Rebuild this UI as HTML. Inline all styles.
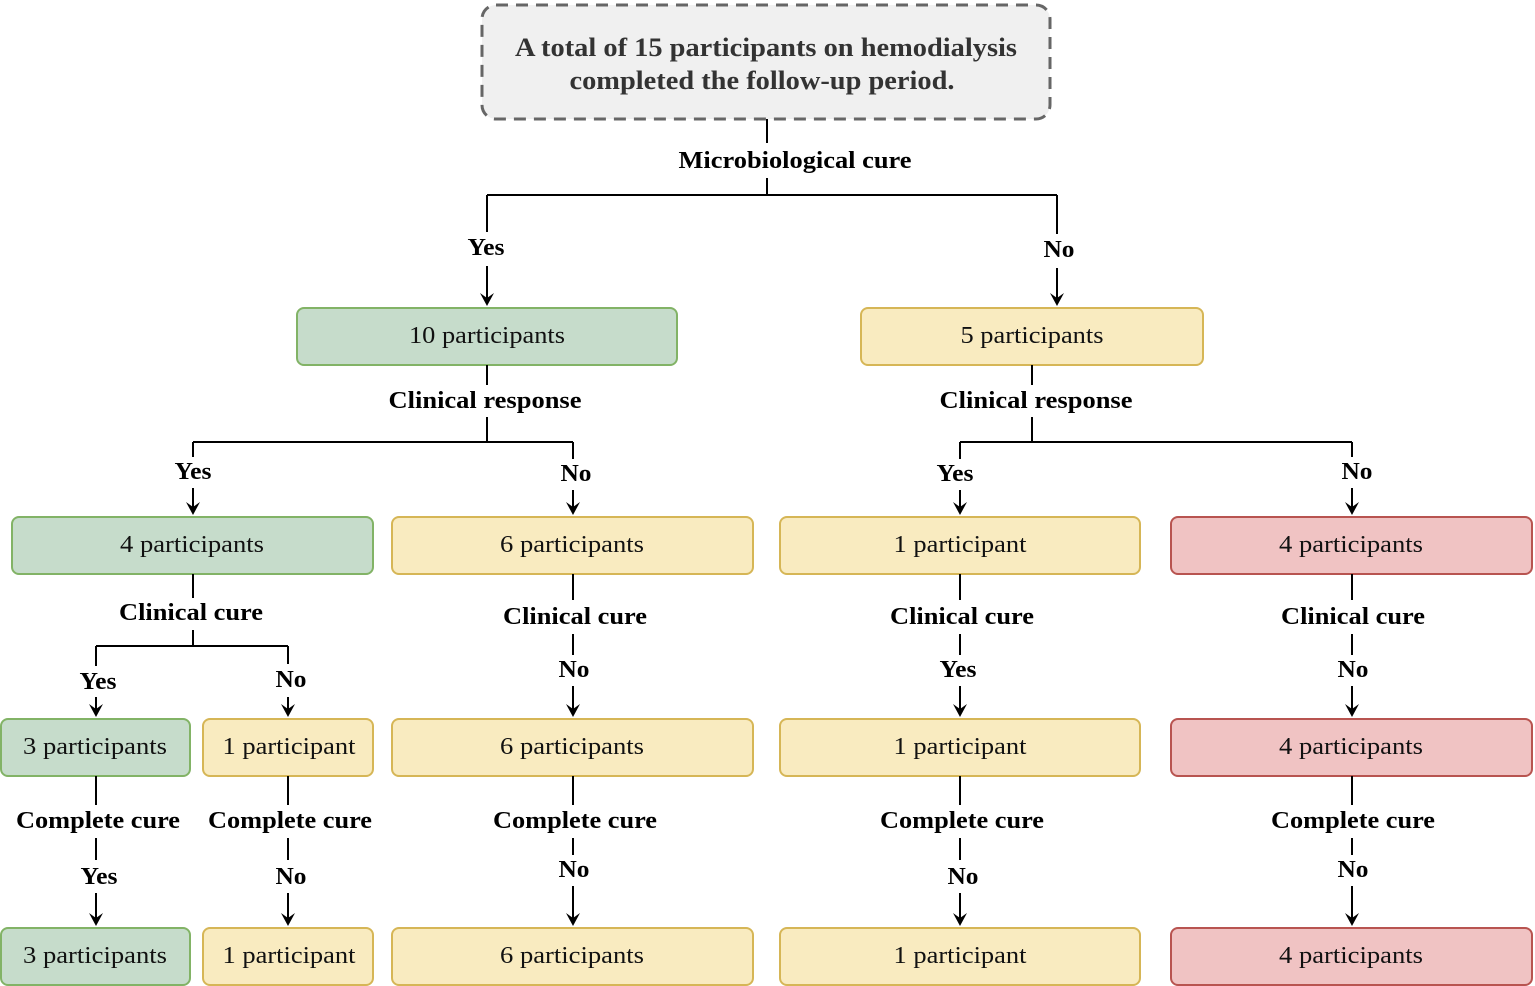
<!DOCTYPE html>
<html><head><meta charset="utf-8"><style>
html,body{margin:0;padding:0;background:#fff}
svg{display:block}
svg text{font-family:"Liberation Serif","Tinos","Times New Roman","Nimbus Roman","DejaVu Serif",serif}
.l{font-weight:bold;font-size:24px;fill:#000}
.b{font-size:24px;fill:#111}
line{stroke:#000;stroke-width:2}
</style></head><body>
<svg width="1535" height="986" viewBox="0 0 1535 986" xmlns="http://www.w3.org/2000/svg">
<defs>
<polygon id="ah" points="-7,-13 0,0 7,-13 0,-8" fill="#000"/>
</defs>
<g text-anchor="middle" lengthAdjust="spacingAndGlyphs">
<rect x="482" y="5" width="568" height="114" rx="14" fill="#f0f0f0" stroke="#666" stroke-width="3" stroke-dasharray="12,8"/>
<text x="766" y="56" font-weight="bold" font-size="26" fill="#333" textLength="502" lengthAdjust="spacingAndGlyphs">A total of 15 participants on hemodialysis</text>
<text x="762" y="89" font-weight="bold" font-size="26" fill="#333" textLength="385" lengthAdjust="spacingAndGlyphs">completed the follow-up period.</text>
<line x1="767" y1="119" x2="767" y2="143"/>
<text class="l" x="795" y="168" textLength="233" lengthAdjust="spacingAndGlyphs">Microbiological cure</text>
<line x1="767" y1="178" x2="767" y2="195"/>
<line x1="487" y1="195" x2="1057" y2="195"/>
<line x1="487" y1="195" x2="487" y2="232"/>
<line x1="1057" y1="195" x2="1057" y2="234"/>
<text class="l" x="486" y="255" textLength="37" lengthAdjust="spacingAndGlyphs">Yes</text>
<text class="l" x="1059" y="257" textLength="31" lengthAdjust="spacingAndGlyphs">No</text>
<line x1="487" y1="266" x2="487" y2="300"/><use href="#ah" x="487" y="306"/>
<line x1="1057" y1="268" x2="1057" y2="300"/><use href="#ah" x="1057" y="306"/>

<rect x="297" y="308" width="380" height="57" rx="7" fill="#c6dccb" stroke="#82b366" stroke-width="2"/>
<text class="b" x="487" y="343" textLength="156" lengthAdjust="spacingAndGlyphs">10 participants</text>
<rect x="861" y="308" width="342" height="57" rx="7" fill="#f9ebc0" stroke="#d6b656" stroke-width="2"/>
<text class="b" x="1032" y="343" textLength="143" lengthAdjust="spacingAndGlyphs">5 participants</text>

<line x1="487" y1="365" x2="487" y2="385"/>
<text class="l" x="485" y="408" textLength="193" lengthAdjust="spacingAndGlyphs">Clinical response</text>
<line x1="487" y1="417" x2="487" y2="442"/>
<line x1="193" y1="442" x2="573" y2="442"/>
<line x1="193" y1="442" x2="193" y2="457"/>
<line x1="573" y1="442" x2="573" y2="459"/>
<text class="l" x="193" y="479" textLength="37" lengthAdjust="spacingAndGlyphs">Yes</text>
<text class="l" x="576" y="481" textLength="31" lengthAdjust="spacingAndGlyphs">No</text>
<line x1="193" y1="488" x2="193" y2="510"/><use href="#ah" x="193" y="515"/>
<line x1="573" y1="490" x2="573" y2="510"/><use href="#ah" x="573" y="515"/>

<line x1="1032" y1="365" x2="1032" y2="385"/>
<text class="l" x="1036" y="408" textLength="193" lengthAdjust="spacingAndGlyphs">Clinical response</text>
<line x1="1032" y1="417" x2="1032" y2="442"/>
<line x1="960" y1="442" x2="1352" y2="442"/>
<line x1="960" y1="442" x2="960" y2="459"/>
<line x1="1352" y1="442" x2="1352" y2="457"/>
<text class="l" x="955" y="481" textLength="37" lengthAdjust="spacingAndGlyphs">Yes</text>
<text class="l" x="1357" y="479" textLength="31" lengthAdjust="spacingAndGlyphs">No</text>
<line x1="960" y1="490" x2="960" y2="510"/><use href="#ah" x="960" y="515"/>
<line x1="1352" y1="488" x2="1352" y2="510"/><use href="#ah" x="1352" y="515"/>

<rect x="12" y="517" width="361" height="57" rx="7" fill="#c6dccb" stroke="#82b366" stroke-width="2"/>
<text class="b" x="192" y="552" textLength="144" lengthAdjust="spacingAndGlyphs">4 participants</text>
<rect x="392" y="517" width="361" height="57" rx="7" fill="#f9ebc0" stroke="#d6b656" stroke-width="2"/>
<text class="b" x="572" y="552" textLength="144" lengthAdjust="spacingAndGlyphs">6 participants</text>
<rect x="780" y="517" width="360" height="57" rx="7" fill="#f9ebc0" stroke="#d6b656" stroke-width="2"/>
<text class="b" x="960" y="552" textLength="133" lengthAdjust="spacingAndGlyphs">1 participant</text>
<rect x="1171" y="517" width="361" height="57" rx="7" fill="#f0c3c3" stroke="#b85450" stroke-width="2"/>
<text class="b" x="1351" y="552" textLength="144" lengthAdjust="spacingAndGlyphs">4 participants</text>

<line x1="193" y1="574" x2="193" y2="598"/>
<text class="l" x="191" y="620" textLength="144" lengthAdjust="spacingAndGlyphs">Clinical cure</text>
<line x1="193" y1="630" x2="193" y2="646"/>
<line x1="96" y1="646" x2="288" y2="646"/>
<line x1="96" y1="646" x2="96" y2="666"/>
<line x1="288" y1="646" x2="288" y2="664"/>
<text class="l" x="98" y="689" textLength="37" lengthAdjust="spacingAndGlyphs">Yes</text>
<text class="l" x="291" y="687" textLength="31" lengthAdjust="spacingAndGlyphs">No</text>
<line x1="96" y1="697" x2="96" y2="712"/><use href="#ah" x="96" y="717"/>
<line x1="288" y1="697" x2="288" y2="712"/><use href="#ah" x="288" y="717"/>

<line x1="573" y1="574" x2="573" y2="600"/><text class="l" x="575" y="624" textLength="144" lengthAdjust="spacingAndGlyphs">Clinical cure</text>
<line x1="573" y1="634" x2="573" y2="655"/><text class="l" x="574" y="677" textLength="31" lengthAdjust="spacingAndGlyphs">No</text>
<line x1="573" y1="686" x2="573" y2="712"/><use href="#ah" x="573" y="717"/>
<line x1="960" y1="574" x2="960" y2="600"/><text class="l" x="962" y="624" textLength="144" lengthAdjust="spacingAndGlyphs">Clinical cure</text>
<line x1="960" y1="634" x2="960" y2="655"/><text class="l" x="958" y="677" textLength="37" lengthAdjust="spacingAndGlyphs">Yes</text>
<line x1="960" y1="686" x2="960" y2="712"/><use href="#ah" x="960" y="717"/>
<line x1="1352" y1="574" x2="1352" y2="600"/><text class="l" x="1353" y="624" textLength="144" lengthAdjust="spacingAndGlyphs">Clinical cure</text>
<line x1="1352" y1="634" x2="1352" y2="655"/><text class="l" x="1353" y="677" textLength="31" lengthAdjust="spacingAndGlyphs">No</text>
<line x1="1352" y1="686" x2="1352" y2="712"/><use href="#ah" x="1352" y="717"/>

<rect x="1" y="719" width="189" height="57" rx="7" fill="#c6dccb" stroke="#82b366" stroke-width="2"/>
<text class="b" x="95" y="754" textLength="144" lengthAdjust="spacingAndGlyphs">3 participants</text>
<rect x="203" y="719" width="170" height="57" rx="7" fill="#f9ebc0" stroke="#d6b656" stroke-width="2"/>
<text class="b" x="289" y="754" textLength="133" lengthAdjust="spacingAndGlyphs">1 participant</text>
<rect x="392" y="719" width="361" height="57" rx="7" fill="#f9ebc0" stroke="#d6b656" stroke-width="2"/>
<text class="b" x="572" y="754" textLength="144" lengthAdjust="spacingAndGlyphs">6 participants</text>
<rect x="780" y="719" width="360" height="57" rx="7" fill="#f9ebc0" stroke="#d6b656" stroke-width="2"/>
<text class="b" x="960" y="754" textLength="133" lengthAdjust="spacingAndGlyphs">1 participant</text>
<rect x="1171" y="719" width="361" height="57" rx="7" fill="#f0c3c3" stroke="#b85450" stroke-width="2"/>
<text class="b" x="1351" y="754" textLength="144" lengthAdjust="spacingAndGlyphs">4 participants</text>

<line x1="96" y1="776" x2="96" y2="805"/><text class="l" x="98" y="828" textLength="164" lengthAdjust="spacingAndGlyphs">Complete cure</text>
<line x1="96" y1="838" x2="96" y2="860"/><text class="l" x="99" y="884" textLength="37" lengthAdjust="spacingAndGlyphs">Yes</text>
<line x1="96" y1="893" x2="96" y2="921"/><use href="#ah" x="96" y="926"/>
<line x1="288" y1="776" x2="288" y2="805"/><text class="l" x="290" y="828" textLength="164" lengthAdjust="spacingAndGlyphs">Complete cure</text>
<line x1="288" y1="838" x2="288" y2="860"/><text class="l" x="291" y="884" textLength="31" lengthAdjust="spacingAndGlyphs">No</text>
<line x1="288" y1="893" x2="288" y2="921"/><use href="#ah" x="288" y="926"/>
<line x1="573" y1="776" x2="573" y2="805"/><text class="l" x="575" y="828" textLength="164" lengthAdjust="spacingAndGlyphs">Complete cure</text>
<line x1="573" y1="838" x2="573" y2="855"/><text class="l" x="574" y="877" textLength="31" lengthAdjust="spacingAndGlyphs">No</text>
<line x1="573" y1="886" x2="573" y2="921"/><use href="#ah" x="573" y="926"/>
<line x1="960" y1="776" x2="960" y2="805"/><text class="l" x="962" y="828" textLength="164" lengthAdjust="spacingAndGlyphs">Complete cure</text>
<line x1="960" y1="838" x2="960" y2="860"/><text class="l" x="963" y="884" textLength="31" lengthAdjust="spacingAndGlyphs">No</text>
<line x1="960" y1="893" x2="960" y2="921"/><use href="#ah" x="960" y="926"/>
<line x1="1352" y1="776" x2="1352" y2="805"/><text class="l" x="1353" y="828" textLength="164" lengthAdjust="spacingAndGlyphs">Complete cure</text>
<line x1="1352" y1="838" x2="1352" y2="855"/><text class="l" x="1353" y="877" textLength="31" lengthAdjust="spacingAndGlyphs">No</text>
<line x1="1352" y1="886" x2="1352" y2="921"/><use href="#ah" x="1352" y="926"/>

<rect x="1" y="928" width="189" height="57" rx="7" fill="#c6dccb" stroke="#82b366" stroke-width="2"/>
<text class="b" x="95" y="963" textLength="144" lengthAdjust="spacingAndGlyphs">3 participants</text>
<rect x="203" y="928" width="170" height="57" rx="7" fill="#f9ebc0" stroke="#d6b656" stroke-width="2"/>
<text class="b" x="289" y="963" textLength="133" lengthAdjust="spacingAndGlyphs">1 participant</text>
<rect x="392" y="928" width="361" height="57" rx="7" fill="#f9ebc0" stroke="#d6b656" stroke-width="2"/>
<text class="b" x="572" y="963" textLength="144" lengthAdjust="spacingAndGlyphs">6 participants</text>
<rect x="780" y="928" width="360" height="57" rx="7" fill="#f9ebc0" stroke="#d6b656" stroke-width="2"/>
<text class="b" x="960" y="963" textLength="133" lengthAdjust="spacingAndGlyphs">1 participant</text>
<rect x="1171" y="928" width="361" height="57" rx="7" fill="#f0c3c3" stroke="#b85450" stroke-width="2"/>
<text class="b" x="1351" y="963" textLength="144" lengthAdjust="spacingAndGlyphs">4 participants</text>
</g>
</svg>
</body></html>
